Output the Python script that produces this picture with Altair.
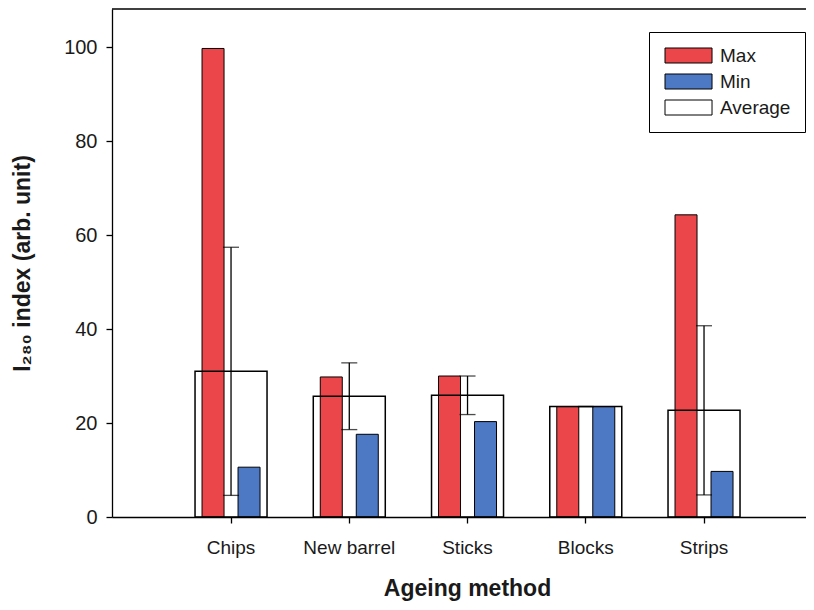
import altair as alt
import pandas as pd

methods = ["Chips", "New barrel", "Sticks", "Blocks", "Strips"]
max_vals = [99.7, 29.8, 30.0, 23.5, 64.3]
min_vals = [10.6, 17.6, 20.3, 23.5, 9.7]
avg_vals = [31.0, 25.7, 25.9, 23.5, 22.7]
sd_vals = [26.4, 7.1, 4.1, 0.0, 18.0]
series = ["Max", "Min", "Average"]
colors = ["#EB4649", "#4D78C4", "#FFFFFF"]
y_ticks = [0, 20, 40, 60, 80, 100]
y_max = 108.1

FONT = "Liberation Sans"
Y_TITLE = "I\u2082\u2088\u2080 index (arb. unit)"

bars_df = pd.DataFrame({
    "method": methods * 2,
    "series": ["Max"] * len(methods) + ["Min"] * len(methods),
    "value": max_vals + min_vals,
})
avg_df = pd.DataFrame({
    "method": methods,
    "mean": avg_vals,
    "lo": [a - s for a, s in zip(avg_vals, sd_vals)],
    "hi": [a + s for a, s in zip(avg_vals, sd_vals)],
})

x_enc = alt.X(
    "method:N",
    sort=methods,
    scale=alt.Scale(paddingInner=0, paddingOuter=0.4345, align=0.583),
    axis=alt.Axis(
        title="Ageing method",
        labelAngle=0,
        labelFontSize=19,
        labelPadding=15,
        tickSize=6,
        titleFontSize=23,
        titleFontWeight="bold",
        titleX=355,
        titleY=60,
    ),
)
y_scale = alt.Scale(domain=[0, y_max], nice=False, zero=True)
y_axis = alt.Axis(
    values=y_ticks,
    labelFontSize=20,
    labelPadding=9,
    tickSize=6,
    titleFontSize=23,
    titleFontWeight="bold",
    titlePadding=29,
)

color_enc = alt.Color(
    "series:N",
    scale=alt.Scale(domain=series, range=colors),
    legend=alt.Legend(
        orient="none",
        legendX=537,
        legendY=23,
        title=None,
        symbolType="M-1,-1H5.27V1H-1Z",
        symbolSize=225,
        symbolStrokeColor="black",
        symbolStrokeWidth=1,
        symbolFillColor="white",
        labelFontSize=19,
        labelOffset=38,
        rowPadding=6,
        padding=14,
        strokeColor="black",
        fillColor="white",
        labelFont=FONT,
        labelColor="#1a1a1a",
    ),
)

base_bars = alt.Chart(bars_df)
max_layer = base_bars.transform_filter(alt.datum.series == "Max").mark_bar(
    width=22, xOffset=-18, stroke="black", strokeWidth=1
).encode(
    x=x_enc,
    y=alt.Y("value:Q", scale=y_scale, axis=y_axis, title=Y_TITLE),
    color=color_enc,
)
min_layer = base_bars.transform_filter(alt.datum.series == "Min").mark_bar(
    width=22, xOffset=18, stroke="black", strokeWidth=1
).encode(
    x=x_enc,
    y=alt.Y("value:Q", scale=y_scale, axis=y_axis, title=Y_TITLE),
    color=color_enc,
)

base_avg = alt.Chart(avg_df)
avg_layer = base_avg.mark_bar(
    width=72, fill="white", fillOpacity=0, stroke="black", strokeWidth=1.5
).encode(
    x=x_enc,
    y=alt.Y("mean:Q", scale=y_scale, axis=y_axis, title=Y_TITLE),
)
err_rule = base_avg.mark_rule(color="black", strokeWidth=1.3).encode(
    x=x_enc,
    y=alt.Y("lo:Q", scale=y_scale, axis=y_axis, title=Y_TITLE),
    y2="hi:Q",
)
err_lo = base_avg.mark_tick(color="black", size=16, thickness=1.3).encode(
    x=x_enc,
    y=alt.Y("lo:Q", scale=y_scale, axis=y_axis, title=Y_TITLE),
)
err_hi = base_avg.mark_tick(color="black", size=16, thickness=1.3).encode(
    x=x_enc,
    y=alt.Y("hi:Q", scale=y_scale, axis=y_axis, title=Y_TITLE),
)
frame_top = alt.Chart(pd.DataFrame({"edge": ["top"]})).mark_rule(
    color="black", strokeWidth=1.3
).encode(y=alt.value(0))

chart = alt.layer(
    max_layer, min_layer, avg_layer, err_rule, err_lo, err_hi, frame_top
).properties(
    width=694,
    height=508,
    padding={"left": 104, "top": 1, "right": 0, "bottom": 85},
    autosize=alt.AutoSizeParams(type="none"),
).configure_view(
    stroke=None
).configure_axis(
    grid=False,
    labelFont=FONT,
    titleFont=FONT,
    domainColor="black",
    domainWidth=1.3,
    tickColor="black",
    tickWidth=1.3,
    labelColor="#1a1a1a",
    titleColor="#1a1a1a",
)

chart.save("out.html", embed_options={"renderer": "svg", "actions": False})
